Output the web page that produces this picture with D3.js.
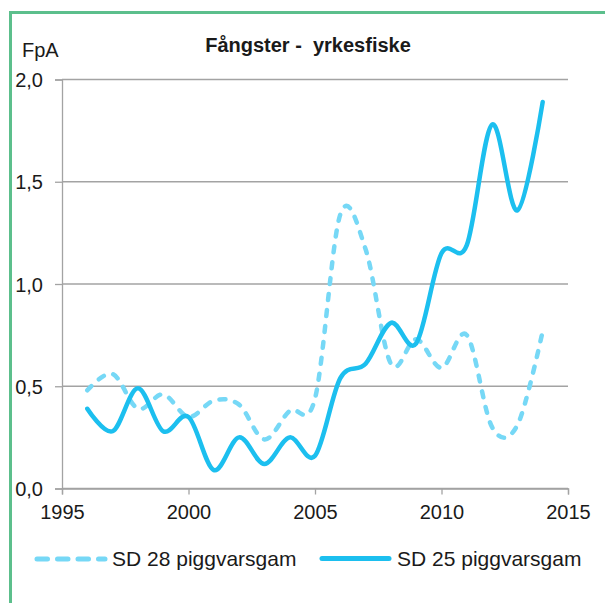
<!DOCTYPE html>
<html>
<head>
<meta charset="utf-8">
<script src="https://cdn.jsdelivr.net/npm/d3@7"></script>
<style>
  body { margin: 0; background: #fff; }
  svg text { font-family: "Liberation Sans", Arial, sans-serif; fill: #1a1a1a; }
</style>
</head>
<body>
<div id="chart"></div>
<script>
// data
var years = [1996, 1997, 1998, 1999, 2000, 2001, 2002, 2003, 2004, 2005,
             2006, 2007, 2008, 2009, 2010, 2011, 2012, 2013, 2014];
var sd28 = [0.48, 0.56, 0.39, 0.46, 0.35, 0.43, 0.41, 0.24, 0.38, 0.44,
            1.34, 1.17, 0.61, 0.73, 0.59, 0.75, 0.30, 0.31, 0.77];
var sd25 = [0.39, 0.28, 0.49, 0.28, 0.35, 0.09, 0.25, 0.12, 0.25, 0.16,
            0.54, 0.61, 0.81, 0.71, 1.15, 1.19, 1.78, 1.36, 1.89];
var xTicks = [1995, 2000, 2005, 2010, 2015];
var yTicks = [0, 0.5, 1.0, 1.5, 2.0];
var seriesNames = ["SD 28 piggvarsgam", "SD 25 piggvarsgam"];
var title = "Fångster -  yrkesfiske";
var yLabel = "FpA";

var W = 605, H = 603;
var margin = { top: 79.5, right: 37, bottom: 114.5, left: 62 },
  width = W - margin.left - margin.right,
  height = H - margin.top - margin.bottom;

var col28 = "#76d8f6", col25 = "#1cbfef", gridCol = "#a3a3a3";

var svg = d3.select("#chart").append("svg")
  .attr("width", W)
  .attr("height", H);

// green frame (only left and top visible)
svg.append("rect")
  .attr("x", 10.5).attr("y", 12.5)
  .attr("width", W + 20).attr("height", H + 20)
  .attr("fill", "none")
  .attr("stroke", "#5cbf8c")
  .attr("stroke-width", 3);

var g = svg.append("g")
  .attr("transform", "translate(" + margin.left + "," + margin.top + ")");

var x = d3.scaleLinear().domain([1995, 2015]).range([0, width]);
var y = d3.scaleLinear().domain([0, 2]).range([height, 0]);

var fmt = function (d) { return d3.format(".1f")(d).replace(".", ","); };

// gridlines
g.append("g")
  .selectAll("line")
  .data(yTicks)
  .enter()
  .append("line")
  .attr("x1", 0)
  .attr("x2", width)
  .attr("y1", function (d) { return y(d); })
  .attr("y2", function (d) { return y(d); })
  .attr("stroke", gridCol)
  .attr("stroke-width", 1.3);

// y axis
var yAxis = g.append("g")
  .call(d3.axisLeft(y).tickValues(yTicks).tickSize(7).tickPadding(12).tickFormat(fmt));
yAxis.select(".domain").attr("stroke", gridCol).attr("stroke-width", 1.3);
yAxis.selectAll(".tick line").attr("stroke", gridCol).attr("stroke-width", 1.3);
yAxis.selectAll(".tick text")
  .attr("font-size", 20)
  .attr("dy", "0.36em")
  .style("font-family", "Liberation Sans, Arial, sans-serif")
  .attr("fill", "#1a1a1a");

// x axis
var xAxis = g.append("g")
  .attr("transform", "translate(0," + height + ")")
  .call(d3.axisBottom(x).tickValues(xTicks).tickSize(6).tickPadding(14).tickFormat(d3.format("d")));
xAxis.select(".domain").attr("stroke", gridCol).attr("stroke-width", 1.3);
xAxis.selectAll(".tick line").attr("stroke", gridCol).attr("stroke-width", 1.3);
xAxis.selectAll(".tick text")
  .attr("font-size", 20)
  .attr("dy", "0.5em")
  .style("font-family", "Liberation Sans, Arial, sans-serif")
  .attr("fill", "#1a1a1a");

// lines (Excel-style smoothing)
var line = d3.line()
  .x(function (d) { return x(d[0]); })
  .y(function (d) { return y(d[1]); })
  .curve(d3.curveCatmullRom.alpha(0));

g.append("path")
  .datum(d3.zip(years, sd28))
  .attr("d", line)
  .attr("fill", "none")
  .attr("stroke", col28)
  .attr("stroke-width", 4.5)
  .attr("stroke-linecap", "round")
  .attr("stroke-dasharray", "6,10");

g.append("path")
  .datum(d3.zip(years, sd25))
  .attr("d", line)
  .attr("fill", "none")
  .attr("stroke", col25)
  .attr("stroke-width", 4.5)
  .attr("stroke-linecap", "round")
  .attr("stroke-linejoin", "round");

// title and axis label
svg.append("text")
  .attr("x", 308)
  .attr("y", 52)
  .attr("text-anchor", "middle")
  .attr("font-size", 20)
  .attr("font-weight", "bold")
  .style("white-space", "pre")
  .text(title);

svg.append("text")
  .attr("x", 22)
  .attr("y", 57)
  .attr("font-size", 20)
  .text(yLabel);

// legend
var legend = svg.append("g");
legend.append("line")
  .attr("x1", 37).attr("x2", 105)
  .attr("y1", 559).attr("y2", 559)
  .attr("stroke", col28)
  .attr("stroke-width", 5)
  .attr("stroke-linecap", "round")
  .attr("stroke-dasharray", "10.5,10");
legend.append("text")
  .attr("x", 112).attr("y", 565.5)
  .attr("font-size", 21)
  .text(seriesNames[0]);

legend.append("line")
  .attr("x1", 322).attr("x2", 389)
  .attr("y1", 558.5).attr("y2", 558.5)
  .attr("stroke", col25)
  .attr("stroke-width", 5)
  .attr("stroke-linecap", "round");
legend.append("text")
  .attr("x", 397).attr("y", 565.5)
  .attr("font-size", 21)
  .text(seriesNames[1]);
</script>
</body>
</html>
